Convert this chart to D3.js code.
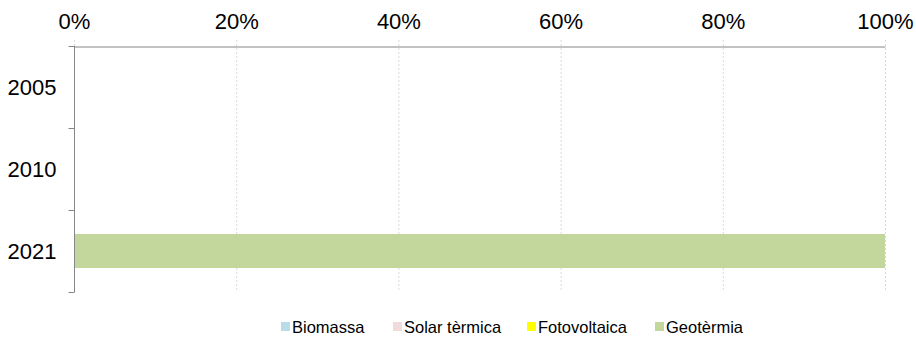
<!DOCTYPE html>
<html><head><meta charset="utf-8">
<script src="https://cdn.jsdelivr.net/npm/d3@7"></script>
<style>body{margin:0;background:#fff;}svg{display:block;font-family:"Liberation Sans",Arial,sans-serif;}</style>
</head><body>
<svg id="c" width="916" height="339"></svg>
<script>
const categories = ["2005","2010","2021"];
const seriesNames = ["Biomassa","Solar tèrmica","Fotovoltaica","Geotèrmia"];
const biomassa = [0,0,0];
const solarTermica = [0,0,0];
const fotovoltaica = [0,0,0];
const geotermia = [0,0,1];
const tickValues = [0,0.2,0.4,0.6,0.8,1];
const colors = ["#b7dde8","#f2dcdb","#ffff00","#c3d69b"];

const svg = d3.select("#c");
const m = {l:74, r:31, t:46, b:47};
const W = 916, H = 339;
const x = d3.scaleLinear().domain([0,1]).range([m.l, W-m.r]);
const y = d3.scaleBand().domain(categories).range([m.t, H-m.b]).paddingInner(0.585).paddingOuter(0.2925);
const yb = d3.scaleBand().domain(categories).range([m.t, H-m.b]);

const rows = categories.map((c,i)=>({cat:c, Biomassa:biomassa[i], "Solar tèrmica":solarTermica[i], Fotovoltaica:fotovoltaica[i], "Geotèrmia":geotermia[i]}));
const stack = d3.stack().keys(seriesNames)(rows);

// gridlines
svg.append("g").selectAll("line").data(tickValues).join("line")
  .attr("x1",d=>x(d)+0.5).attr("x2",d=>x(d)+0.5)
  .attr("y1",m.t-6).attr("y2",H-m.b)
  .attr("stroke","#d9d9d9").attr("stroke-dasharray","2,2").attr("stroke-width",1);

// bars
svg.append("g").selectAll("g").data(stack).join("g")
  .attr("fill",(d,i)=>colors[i])
  .selectAll("rect").data(d=>d).join("rect")
  .attr("x",d=>x(d[0])).attr("width",d=>x(d[1])-x(d[0]))
  .attr("y",d=>y(d.data.cat)).attr("height",y.bandwidth());

// top axis
const xa = d3.axisTop(x).tickValues(tickValues).tickFormat(d3.format(".0%")).tickSize(0).tickPadding(18);
const gx = svg.append("g").attr("transform",`translate(0,${m.t+0.5})`).call(xa);
gx.select(".domain").attr("stroke","#868686");
gx.selectAll("text").attr("font-size","22px").attr("fill","#000").attr("font-family","Liberation Sans, Arial, sans-serif");

// left axis
const gy = svg.append("g").attr("transform",`translate(${m.l+0.5},0)`);
gy.append("line").attr("x1",0).attr("x2",0).attr("y1",m.t).attr("y2",H-m.b).attr("stroke","#868686");
const bounds = categories.map(c=>yb(c)).concat([yb(categories[categories.length-1])+yb.bandwidth()]);
gy.selectAll("line.t").data(bounds).join("line").attr("class","t")
  .attr("x1",-6).attr("x2",0).attr("y1",d=>Math.round(d)+0.5).attr("y2",d=>Math.round(d)+0.5).attr("stroke","#868686");
gy.selectAll("text").data(categories).join("text")
  .attr("x",-42.5).attr("y",d=>yb(d)+yb.bandwidth()/2).attr("dy","0.35em")
  .attr("text-anchor","middle").attr("font-size","22px").attr("fill","#000").text(d=>d);

// legend
const legX = [281,393,527,655];
const lg = svg.append("g").selectAll("g").data(seriesNames).join("g")
  .attr("transform",(d,i)=>`translate(${legX[i]},327)`);
lg.append("rect").attr("x",0).attr("y",-5).attr("width",9).attr("height",9).attr("fill",(d,i)=>colors[i]);
lg.append("text").attr("x",11).attr("y",0).attr("dy","0.35em").attr("font-size","16.5px").attr("fill","#000").text(d=>d);
</script>
</body></html>
